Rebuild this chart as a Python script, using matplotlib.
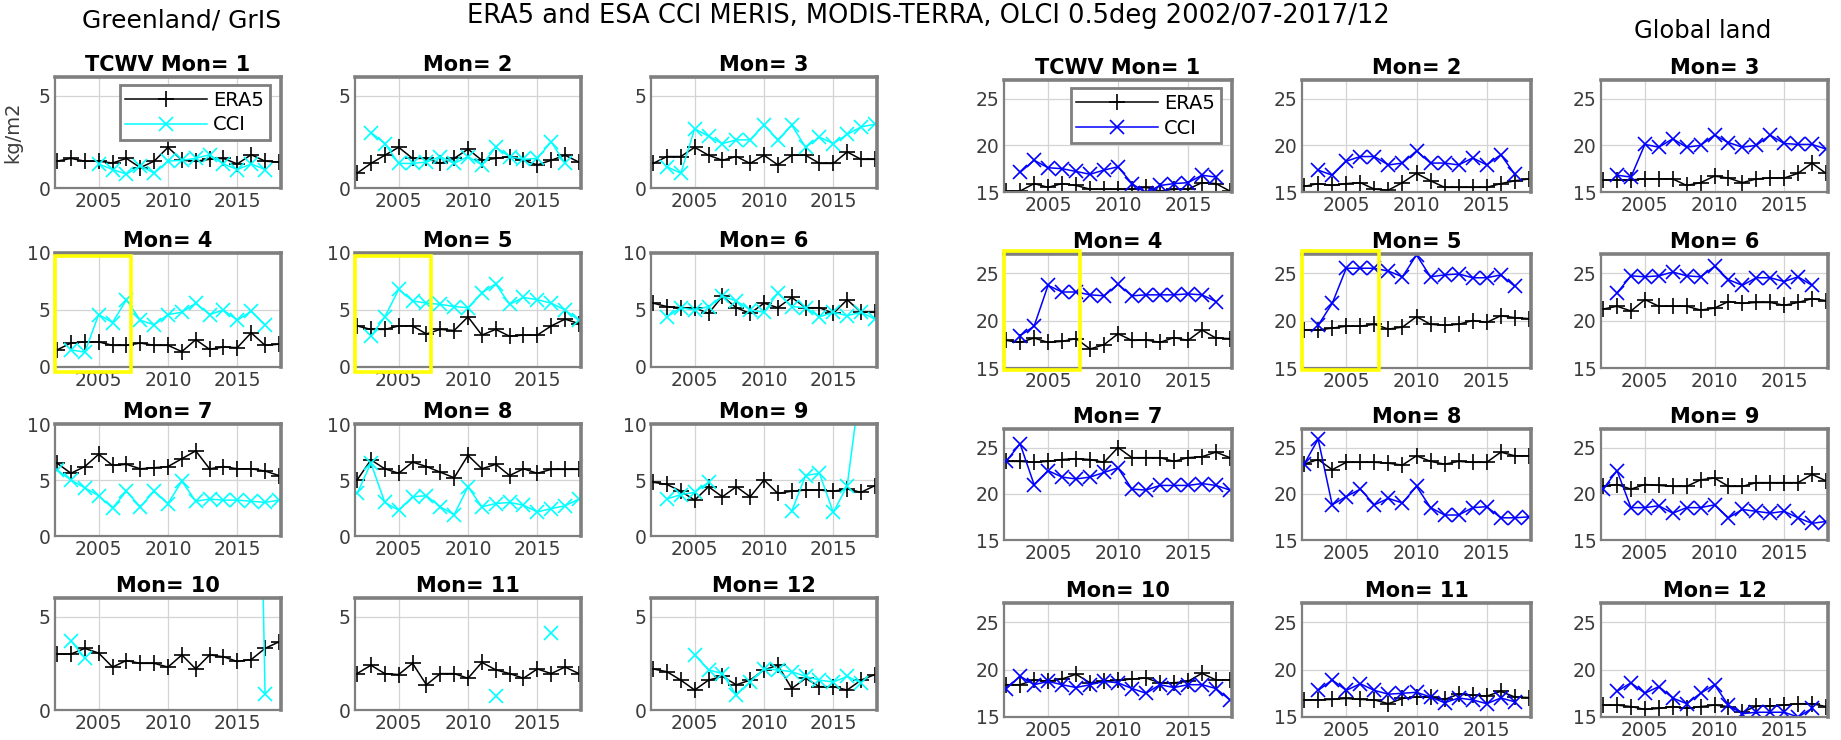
import numpy as np
import matplotlib.pyplot as plt
from matplotlib.patches import Rectangle

nan = np.nan
years = np.arange(2002, 2019)
months = list(range(1, 13))

# Greenland / GrIS, TCWV kg/m2, one row per month, years 2002..2018
gris_era5 = [
    [1.45, 1.6, 1.45, 1.45, 1.35, 1.6, 1.1, 1.45, 2.2, 1.5, 1.45, 1.55, 1.6, 1.3, 1.8, 1.45, 1.4],
    [0.8, 1.33, 1.77, 2.2, 1.6, 1.6, 1.33, 1.6, 2.1, 1.5, 1.6, 1.7, 1.5, 1.25, 1.5, 1.77, 1.4],
    [1.33, 1.7, 1.7, 2.2, 1.77, 1.5, 1.7, 1.33, 1.77, 1.25, 1.77, 1.77, 1.33, 1.33, 1.95, 1.55, 1.55],
    [1.5, 2.1, 2.2, 2.2, 1.9, 1.9, 2.1, 1.9, 1.9, 1.35, 2.4, 1.55, 1.75, 1.7, 3.0, 1.9, 2.0],
    [3.6, 3.3, 3.3, 3.6, 3.6, 2.9, 3.3, 3.2, 4.4, 2.8, 3.3, 2.7, 2.8, 2.8, 3.6, 4.2, 3.8],
    [5.6, 5.3, 5.2, 5.2, 4.7, 6.2, 5.2, 4.7, 5.6, 5.2, 6.1, 5.2, 5.2, 4.7, 5.9, 4.8, 4.8],
    [6.5, 5.6, 6.2, 7.3, 6.3, 6.4, 6.0, 6.1, 6.2, 6.9, 7.6, 6.0, 6.2, 6.0, 6.0, 5.8, 5.4],
    [5.0, 6.8, 6.0, 5.6, 6.6, 6.2, 5.7, 5.2, 7.2, 6.0, 6.4, 5.4, 6.0, 5.6, 5.95, 5.95, 5.95],
    [4.8, 4.6, 4.0, 3.2, 4.4, 3.5, 4.4, 3.5, 5.0, 3.8, 4.0, 4.1, 4.1, 4.0, 4.2, 3.9, 4.5],
    [3.0, 3.0, 3.3, 3.05, 2.3, 2.65, 2.5, 2.5, 2.3, 2.95, 2.2, 2.95, 2.85, 2.6, 2.7, 3.3, 3.65],
    [1.95, 2.4, 1.95, 1.9, 2.5, 1.35, 1.95, 1.95, 1.7, 2.55, 2.15, 1.95, 1.7, 2.2, 1.95, 2.3, 1.95],
    [2.2, 2.05, 1.6, 1.07, 1.6, 1.8, 1.35, 1.6, 2.15, 2.4, 1.15, 1.7, 1.25, 1.25, 1.07, 1.6, 1.9],
]
gris_cci = [
    [nan, nan, nan, 1.3, 1.0, 0.75, 1.2, 0.8, 1.45, 1.5, 1.6, 1.8, 1.3, 1.0, 1.3, 1.0, nan],
    [nan, 3.0, 2.4, 1.33, 1.33, 1.4, 1.7, 1.33, 1.7, 1.25, 2.2, 1.7, 1.55, 1.6, 2.5, 1.33, nan],
    [nan, 1.15, 0.8, 3.2, 2.8, 2.4, 2.6, 2.6, 3.4, 2.6, 3.4, 2.2, 2.75, 2.4, 2.9, 3.3, 3.45],
    [nan, 1.5, 1.3, 4.6, 3.9, 5.9, 4.1, 3.7, 4.6, 4.8, 5.6, 4.6, 5.0, 4.1, 4.9, 3.7, nan],
    [nan, 2.7, 4.4, 6.8, 5.8, 5.6, 5.5, 5.3, 5.2, 6.5, 7.3, 5.5, 6.1, 5.9, 5.6, 5.0, 4.1],
    [nan, 4.4, 5.2, 5.0, 5.3, 6.2, 5.8, 5.0, 4.8, 6.5, 5.3, 5.2, 4.4, 4.8, 4.5, 4.8, 4.2],
    [5.9, 5.0, 4.3, 3.6, 2.5, 4.0, 2.6, 4.0, 2.9, 4.9, 3.1, 3.3, 3.2, 3.2, 3.1, 3.0, 3.2],
    [3.8, 6.5, 3.0, 2.3, 3.5, 3.6, 2.6, 1.9, 4.4, 2.6, 2.9, 3.0, 2.75, 2.15, 2.45, 2.7, 3.3],
    [nan, 3.3, 3.7, 3.9, 4.8, nan, nan, nan, nan, nan, 2.2, 5.4, 5.6, 2.1, 4.5, 14.0, nan],
    [nan, 3.7, 2.8, nan, nan, nan, nan, nan, nan, nan, nan, nan, nan, nan, 40.0, 0.85, nan],
    [nan, nan, nan, nan, nan, nan, nan, nan, nan, nan, 0.75, nan, nan, nan, 4.1, nan, nan],
    [nan, nan, nan, 2.95, 2.15, 1.95, 0.8, 1.5, 2.2, 2.15, 2.05, 1.8, 1.6, 1.5, 1.8, 1.45, nan],
]

# Global land
land_era5 = [
    [15.1, 15.1, 15.9, 15.5, 15.9, 15.7, 15.3, 15.3, 15.3, 15.3, 15.5, 15.1, 15.3, 15.3, 16.0, 15.9, 15.1],
    [15.6, 15.9, 15.7, 15.9, 16.0, 15.3, 15.2, 16.0, 17.0, 16.2, 15.5, 15.5, 15.5, 15.5, 15.9, 16.2, 16.4],
    [16.3, 16.3, 16.3, 16.4, 16.4, 16.4, 15.7, 16.0, 16.7, 16.5, 16.0, 16.4, 16.5, 16.5, 17.0, 18.1, 17.0],
    [17.9, 17.7, 18.15, 17.7, 17.8, 18.1, 17.0, 17.45, 18.6, 17.9, 17.95, 17.7, 18.2, 17.9, 19.0, 18.15, 18.1],
    [19.0, 19.0, 19.2, 19.4, 19.4, 19.6, 19.1, 19.3, 20.4, 19.6, 19.5, 19.6, 20.0, 19.8, 20.5, 20.3, 20.2],
    [21.2, 21.5, 21.0, 22.2, 21.5, 21.5, 21.5, 21.1, 21.3, 22.0, 21.8, 21.9, 21.9, 21.6, 21.9, 22.3, 22.1],
    [23.5, 23.5, 23.4, 23.5, 23.7, 23.8, 23.7, 23.4, 25.0, 23.9, 23.9, 23.9, 23.5, 23.9, 24.0, 24.5, 23.9],
    [23.2, 23.7, 22.6, 23.4, 23.4, 23.4, 23.3, 23.1, 24.1, 23.5, 23.2, 23.5, 23.4, 23.4, 24.5, 24.1, 24.1],
    [20.8, 21.0, 20.5, 21.0, 20.9, 20.8, 20.8, 21.5, 21.7, 20.8, 20.8, 21.2, 21.2, 21.2, 21.2, 22.1, 21.4],
    [18.4, 18.4, 18.9, 18.75, 19.0, 19.5, 18.6, 18.75, 18.85, 19.0, 19.1, 18.6, 18.6, 18.75, 19.6, 18.9, 18.9],
    [16.8, 16.8, 16.85, 16.95, 16.85, 16.8, 16.4, 16.95, 17.1, 17.1, 16.85, 17.4, 17.3, 17.2, 17.7, 17.1, 17.05],
    [16.25, 16.25, 16.1, 15.8, 15.9, 16.1, 15.9, 16.1, 16.25, 16.1, 15.5, 16.15, 16.15, 16.25, 16.4, 16.4, 16.1],
]
land_cci = [
    [nan, 17.1, 18.4, 17.6, 17.5, 17.2, 16.9, 17.35, 17.7, 15.9, 14.9, 15.7, 15.9, 16.0, 16.8, 16.6, nan],
    [nan, 17.35, 16.8, 18.3, 18.8, 18.8, 17.9, 18.1, 19.4, 18.1, 18.1, 17.9, 18.65, 17.9, 19.0, 16.9, nan],
    [nan, 16.8, 16.6, 20.1, 19.8, 20.7, 19.8, 20.0, 21.1, 20.3, 19.8, 20.0, 21.1, 20.2, 20.1, 20.1, 19.6],
    [nan, 18.4, 19.4, 23.7, 23.0, 23.0, 22.7, 22.6, 23.8, 22.6, 22.7, 22.7, 22.7, 22.8, 22.7, 22.0, nan],
    [nan, 19.5, 21.8, 25.5, 25.5, 25.5, 25.2, 24.6, 26.9, 24.6, 24.8, 24.9, 24.5, 24.5, 24.8, 23.6, nan],
    [nan, 22.9, 24.7, 24.6, 24.7, 25.1, 24.7, 24.6, 25.7, 24.3, 23.7, 24.5, 24.5, 24.1, 24.6, 23.7, nan],
    [23.5, 25.4, 21.0, 22.5, 21.8, 21.6, 21.8, 22.3, 22.8, 20.5, 20.4, 20.9, 20.9, 20.9, 21.1, 20.9, 20.4],
    [23.2, 25.9, 18.8, 19.7, 20.5, 18.8, 19.5, 19.0, 20.8, 18.5, 17.7, 17.7, 18.5, 18.6, 17.4, 17.4, 17.5],
    [20.5, 22.5, 18.5, 18.5, 18.7, 17.9, 18.5, 18.5, 18.8, 17.4, 18.3, 18.1, 17.9, 18.1, 17.4, 16.8, 17.0],
    [18.0, 19.3, 18.4, 18.75, 18.4, 18.1, 18.4, 18.75, 18.6, 18.0, 17.5, 18.4, 18.1, 18.4, 18.4, 18.0, 16.8],
    [nan, 17.8, 18.9, 17.8, 18.5, 17.8, 17.4, 17.5, 17.6, 17.1, 16.5, 17.0, 16.8, 16.4, 17.0, 16.6, nan],
    [nan, 17.7, 18.6, 17.5, 18.2, 17.0, 16.4, 17.5, 18.4, 16.25, 15.35, 15.5, 15.5, 15.5, 15.0, 15.9, nan],
]

W, H = 1841, 740
fig = plt.figure(figsize=(W / 100, H / 100), dpi=100)

# panel boxes in pixels: (left, width) per column, (top, height) per row
left_cols = [(55, 226), (355, 226), (651, 226)]
left_rows = [(77, 111), (253, 114), (424, 112), (598, 112)]
right_cols = [(1004, 228), (1302, 229), (1601, 227)]
right_rows = [(80, 112), (254, 114), (429, 111), (603, 114)]

gray = '#7f7f7f'
tcol = '#3c3c3c'


def panel(cols, rows, k):
    x, w = cols[k % 3]
    y, h = rows[k // 3]
    return fig.add_axes([x / W, 1 - (y + h) / H, w / W, h / H])


def draw(ax, mon, era, cci, ccol, ylim, yticks, rect_top, rect_bot):
    ax.plot(years, era, color='k', marker='+', ms=12, mew=1.2, lw=1.1, label='ERA5')
    ax.plot(years, cci, color=ccol, marker='x', ms=10, mew=1.2, lw=1.1, label='CCI')
    ax.set_xlim(2001.85, 2018.15)
    ax.set_ylim(*ylim)
    ax.set_xticks([2005, 2010, 2015])
    ax.set_yticks(yticks)
    ax.grid(True, color='#d4d4d4', lw=0.9)
    ax.set_axisbelow(True)
    ax.tick_params(length=0, labelsize=13.5, labelcolor=tcol, pad=3)
    for s in ['left', 'bottom']:
        ax.spines[s].set_color(gray)
        ax.spines[s].set_linewidth(1.6)
    for s in ['top', 'right']:
        ax.spines[s].set_color(gray)
        ax.spines[s].set_linewidth(2.6)
    title = 'TCWV Mon= 1' if mon == 1 else 'Mon= %d' % mon
    ax.set_title(title, fontsize=15, fontweight='bold', pad=4)
    if mon in (4, 5):
        ax.add_patch(Rectangle((2001.85, rect_bot), 5.45, rect_top - rect_bot, fill=False,
                               ec='#ffff00', lw=2.6, clip_on=False, zorder=6))
    if mon == 1:
        leg = ax.legend(loc='upper right', bbox_to_anchor=(0.95, 0.93), fontsize=14,
                        handlelength=4.2, fancybox=False, framealpha=1, edgecolor=gray,
                        borderpad=0.3, labelspacing=0.3, handletextpad=0.3, borderaxespad=0)
        leg.get_frame().set_linewidth(2.0)


for k, mon in enumerate(months):
    ax = panel(left_cols, left_rows, k)
    if 3 <= k < 9:
        ylim, yt = (0, 10), [0, 5, 10]
    else:
        ylim, yt = (0, 6), [0, 5]
    draw(ax, mon, gris_era5[k], gris_cci[k], '#00ffff', ylim, yt, 9.7, -0.4)
    if mon == 1:
        ax.set_ylabel('kg/m2', fontsize=14, color=tcol)
        ax.yaxis.set_label_coords((22 - 55) / 226, 0.5)

for k, mon in enumerate(months):
    ax = panel(right_cols, right_rows, k)
    draw(ax, mon, land_era5[k], land_cci[k], '#0000ff', (15, 27), [15, 20, 25], 27.3, 14.8)

fig.text(182 / W, 1 - 21 / H, 'Greenland/ GrIS', ha='center', va='center', fontsize=18)
fig.text(928 / W, 1 - 16 / H, 'ERA5 and ESA CCI MERIS, MODIS-TERRA, OLCI 0.5deg 2002/07-2017/12',
         ha='center', va='center', fontsize=18.5)
fig.text(1703 / W, 1 - 31 / H, 'Global land', ha='center', va='center', fontsize=17.5)

fig.savefig('out.png', dpi=100)
